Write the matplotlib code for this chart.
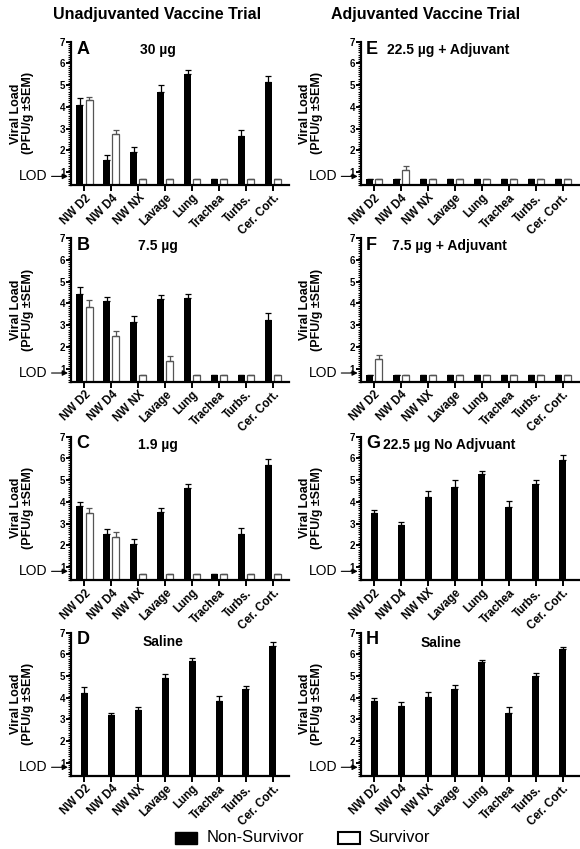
import matplotlib
matplotlib.use("Agg")
from matplotlib import pyplot as plt
from matplotlib.ticker import MultipleLocator
import numpy as np

plt.rcParams['font.family'] = ['Liberation Sans', 'DejaVu Sans']

tissues = ['NW D2', 'NW D4', 'NW NX', 'Lavage', 'Lung', 'Trachea', 'Turbs.', 'Cer. Cort.']
LOD = 0.7

# Unadjuvanted: non-survivor (ns) and survivor (s) means and SEM
a_ns = [4.1, 1.55, 1.9, 4.7, 5.5, LOD, 2.65, 5.15]
a_ns_err = [0.3, 0.25, 0.25, 0.3, 0.18, 0, 0.3, 0.28]
a_s = [4.3, 2.75, LOD, LOD, LOD, LOD, LOD, LOD]
a_s_err = [0.15, 0.2, 0, 0, 0, 0, 0, 0]

b_ns = [4.45, 4.1, 3.15, 4.2, 4.25, LOD, LOD, 3.25]
b_ns_err = [0.3, 0.2, 0.25, 0.2, 0.2, 0, 0, 0.3]
b_s = [3.85, 2.5, LOD, 1.35, LOD, LOD, LOD, LOD]
b_s_err = [0.3, 0.25, 0, 0.25, 0, 0, 0, 0]

c_ns = [3.8, 2.5, 2.05, 3.55, 4.65, LOD, 2.5, 5.7]
c_ns_err = [0.18, 0.25, 0.25, 0.18, 0.18, 0, 0.3, 0.25]
c_s = [3.5, 2.4, LOD, LOD, LOD, LOD, LOD, LOD]
c_s_err = [0.22, 0.22, 0, 0, 0, 0, 0, 0]

d_ns = [4.2, 3.2, 3.45, 4.9, 5.7, 3.85, 4.4, 6.4]
d_ns_err = [0.28, 0.12, 0.12, 0.18, 0.13, 0.25, 0.14, 0.15]

# Adjuvanted
e_ns = [LOD] * 8
e_s = [LOD, 1.1, LOD, LOD, LOD, LOD, LOD, LOD]
e_s_err = [0, 0.2, 0, 0, 0, 0, 0, 0]

f_ns = [LOD] * 8
f_s = [1.45, LOD, LOD, LOD, LOD, LOD, LOD, LOD]
f_s_err = [0.18, 0, 0, 0, 0, 0, 0, 0]

g_ns = [3.5, 2.95, 4.2, 4.7, 5.3, 3.75, 4.8, 5.9]
g_ns_err = [0.1, 0.12, 0.28, 0.28, 0.12, 0.28, 0.22, 0.25]

h_ns = [3.85, 3.6, 4.05, 4.4, 5.65, 3.3, 5.0, 6.25]
h_ns_err = [0.12, 0.2, 0.2, 0.2, 0.08, 0.27, 0.13, 0.08]

panels = [
    ('A', '30 µg', a_ns, a_ns_err, a_s, a_s_err),
    ('B', '7.5 µg', b_ns, b_ns_err, b_s, b_s_err),
    ('C', '1.9 µg', c_ns, c_ns_err, c_s, c_s_err),
    ('D', 'Saline', d_ns, d_ns_err, None, None),
    ('E', '22.5 µg + Adjuvant', e_ns, [0] * 8, e_s, e_s_err),
    ('F', '7.5 µg + Adjuvant', f_ns, [0] * 8, f_s, f_s_err),
    ('G', '22.5 µg No Adjvuant', g_ns, g_ns_err, None, None),
    ('H', 'Saline', h_ns, h_ns_err, None, None),
]

# title placement (x in axes fraction, y in data, alignment)
title_pos = {'A': (0.40, 6.95, 'center'), 'B': (0.40, 6.95, 'center'),
             'C': (0.40, 6.95, 'center'), 'D': (0.42, 6.9, 'center'),
             'E': (0.12, 6.95, 'left'), 'F': (0.145, 6.95, 'left'),
             'G': (0.1, 6.95, 'left'), 'H': (0.37, 6.85, 'center')}

fig = plt.figure(figsize=(5.8, 8.49), dpi=100)

lefts = [0.1224, 0.622]
w = 0.376
bottoms = [0.782, 0.5504, 0.3168, 0.086]
h = 0.169

x = np.arange(len(tissues))
bw = 0.26

for i, (letter, title, ns, ns_err, s, s_err) in enumerate(panels):
    col = i // 4
    row = i % 4
    ax = fig.add_axes([lefts[col], bottoms[row], w, h])
    if s is None:
        ax.bar(x, ns, bw, color='black', zorder=2)
        ax.errorbar(x, ns, yerr=[np.zeros(8), ns_err], fmt='none',
                    ecolor='black', elinewidth=0.9, capsize=2.2, capthick=0.9)
    else:
        ax.bar(x - 0.17, ns, bw, color='black', zorder=2)
        ax.bar(x + 0.17, s, bw, color='white', edgecolor='#555555',
               linewidth=0.9, zorder=2)
        ax.errorbar(x - 0.17, ns, yerr=[np.zeros(8), ns_err], fmt='none',
                    ecolor='black', elinewidth=0.9, capsize=2.2, capthick=0.9)
        ax.errorbar(x + 0.17, s, yerr=[np.zeros(8), s_err], fmt='none',
                    ecolor='#555555', elinewidth=0.9, capsize=2.2, capthick=0.9)

    ax.set_xlim(-0.5, 7.6)
    ax.set_ylim(0.4, 7)
    ax.spines['top'].set_visible(False)
    ax.spines['right'].set_visible(False)
    ax.spines['left'].set_linewidth(1.6)
    ax.spines['bottom'].set_linewidth(1.6)
    ax.set_yticks(range(1, 8))
    ax.yaxis.set_minor_locator(MultipleLocator(0.1))
    ax.tick_params(axis='y', which='major', length=3.5, width=1.4, pad=0.5,
                   labelsize=7)
    ax.tick_params(axis='y', which='minor', length=2, width=0.8)
    ax.tick_params(axis='x', length=4, width=1.4, pad=1, labelsize=8.3)
    for lab in ax.get_yticklabels():
        lab.set_fontweight('bold')
    ax.set_xticks(x)
    ax.set_xticklabels(tissues, rotation=45, ha='right', rotation_mode='anchor',
                       fontweight='bold')
    ax.set_ylabel('Viral Load\n(PFU/g ±SEM)', fontsize=9, fontweight='bold',
                  labelpad=19, linespacing=1.0)

    ax.text(0.025, 7.05, letter, transform=ax.get_yaxis_transform(),
            fontsize=13, fontweight='bold', va='top', ha='left')
    tx, ty, ha = title_pos[letter]
    ax.text(tx, ty, title, transform=ax.get_yaxis_transform(),
            fontsize=10, fontweight='bold', va='top', ha=ha)

    ax.annotate('LOD', xy=(0, 0.8), xycoords=ax.get_yaxis_transform(),
                xytext=(-17, 0.8), textcoords=('offset points', 'data'),
                fontsize=10, ha='right', va='center', annotation_clip=False,
                arrowprops=dict(arrowstyle='-|>', color='black', lw=0.8,
                                mutation_scale=8, shrinkA=1, shrinkB=2.2))

fig.text(0.271, 0.9835, 'Unadjuvanted Vaccine Trial', fontsize=11.5,
         fontweight='bold', ha='center', va='center')
fig.text(0.733, 0.9835, 'Adjuvanted Vaccine Trial', fontsize=11.5,
         fontweight='bold', ha='center', va='center')

# legend
fig.patches.append(plt.Rectangle((175 / 580, 1 - 844 / 849), 22 / 580, 12 / 849,
                                 transform=fig.transFigure, facecolor='black',
                                 edgecolor='black', figure=fig))
fig.text(207 / 580, 1 - 838 / 849, 'Non-Survivor', fontsize=12, va='center')
fig.patches.append(plt.Rectangle((338 / 580, 1 - 844 / 849), 22 / 580, 12 / 849,
                                 transform=fig.transFigure, facecolor='white',
                                 edgecolor='black', lw=1.5, figure=fig))
fig.text(368 / 580, 1 - 838 / 849, 'Survivor', fontsize=12, va='center')

fig.savefig('out.png', dpi=100)
